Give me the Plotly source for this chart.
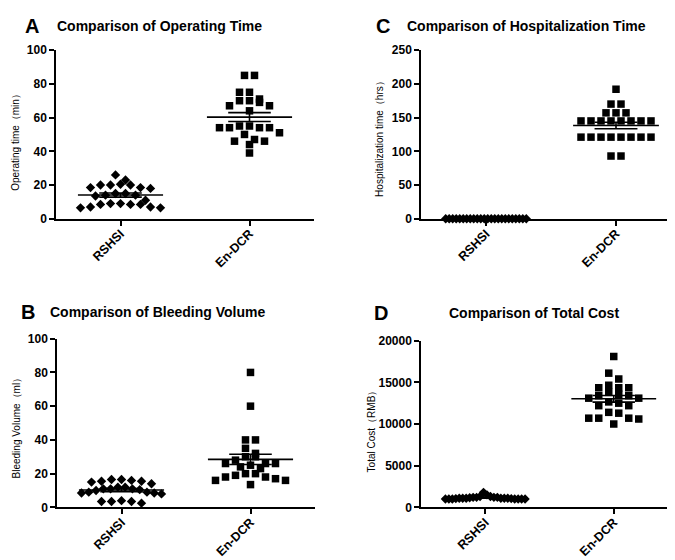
import numpy as np
import plotly.graph_objects as go

W, H = 675, 560

categories = ["RSHSI", "En-DCR"]

# Panel A: Operating time (min)
op_rshsi = [26, 23, 18.5, 20, 20, 20, 20.5, 18, 18.5, 15, 14, 14, 13.5, 15, 11,
            8.5, 8.5, 9, 9, 8.5, 7, 7, 6.5, 6.5]
op_endcr = [85, 85, 75, 75, 71, 70, 70, 69, 67, 67, 64, 55, 55, 54, 54, 54, 54,
            51, 50, 47, 46, 46, 44, 39]

# Panel C: Hospitalization time (hrs)
hosp_rshsi = [0] * 24
hosp_endcr = [192, 170, 170, 157, 157, 157, 145, 145, 145, 145, 145, 145, 145, 145,
              121, 121, 121, 121, 121, 121, 121, 121, 93, 93]

# Panel B: Bleeding volume (ml)
bleed_rshsi = [16, 15, 16.5, 16.5, 15.5, 15.5, 14, 12, 11, 11, 10, 9, 11, 10.5,
               8.5, 8.5, 9, 8, 4, 3.5, 2.5, 3.5, 3.5, 12]
bleed_endcr = [80, 60, 40, 40, 35, 32, 30, 30, 28, 26, 26, 26, 25, 23, 24, 20, 20,
               19, 18, 18, 17, 16, 16, 13.5]

# Panel D: Total cost (RMB)
cost_rshsi = [1200, 1300, 1100, 1000, 1200, 1100, 1000, 1050, 1800, 1500, 1100, 1000,
              1100, 1000, 1050, 1200, 1100, 1000, 1300, 1100, 1000, 1200, 1150, 1000]
cost_endcr = [18100, 16100, 15400, 14650, 14350, 14350, 14350, 13800, 13550, 13400,
              13400, 13100, 13100, 12650, 12500, 12200, 12200, 11300, 11400, 10700,
              10600, 10700, 10700, 10000]

panels = [
    dict(letter="A", title="Comparison of Operating Time", ylabel="Operating time（min）",
         data=[op_rshsi, op_endcr], ymax=100, dtick=20,
         box=(48, 306, 36, 209), letter_xy=(15, 11), title_xy=(47, 11), ylab_xy=(8, 128)),
    dict(letter="C", title="Comparison of Hospitalization Time", ylabel="Hospitalization time（hrs）",
         data=[hosp_rshsi, hosp_endcr], ymax=250, dtick=50,
         box=(413, 673, 36, 209), letter_xy=(366, 11), title_xy=(397, 11), ylab_xy=(372, 125)),
    dict(letter="B", title="Comparison of Bleeding Volume", ylabel="Bleeding Volume（ml）",
         data=[bleed_rshsi, bleed_endcr], ymax=100, dtick=20,
         box=(49, 307, 332, 505), letter_xy=(11, 305), title_xy=(40, 305), ylab_xy=(8, 421)),
    dict(letter="D", title="Comparison of Total Cost", ylabel="Total Cost（RMB）",
         data=[cost_rshsi, cost_endcr], ymax=20000, dtick=5000,
         box=(413, 670, 334, 505), letter_xy=(364, 306), title_xy=(439, 306), ylab_xy=(363, 425)),
]

symbols = ["diamond", "square"]
msizes = [7.2, 7.5]


def swarm(values, y_ppu, x_ppu, row_px=7.0, step=10.0, max_half=0.31):
    """GraphPad-like row layout: values closer than row_px share a row, centred."""
    vals = np.asarray(values, float)
    order = list(np.argsort(-vals, kind="stable"))
    offs = np.zeros(len(vals))
    rows = []
    for i in order:
        if rows and (vals[rows[-1][0]] - vals[i]) * y_ppu < row_px:
            rows[-1].append(i)
        else:
            rows.append([i])
    for row in rows:
        k = len(row)
        pos = [(j - (k - 1) / 2.0) * step / x_ppu for j in range(k)]
        half = max(abs(p) for p in pos) if k > 1 else 0
        if half > max_half:
            pos = [p * max_half / half for p in pos]
        slots = sorted(range(k), key=lambda j: (abs(j - (k - 1) / 2.0), j))
        for i, s in zip(row, slots):
            offs[i] = pos[s]
    return offs


fig = go.Figure()
layout = dict(width=W, height=H, margin=dict(l=0, r=0, t=0, b=0),
              paper_bgcolor="white", plot_bgcolor="white", showlegend=False)
annotations = []
font_family = "Liberation Sans, Arial, sans-serif"

for idx, p in enumerate(panels):
    n = idx + 1
    xa = "x" if n == 1 else f"x{n}"
    ya = "y" if n == 1 else f"y{n}"
    x0, x1, yt, yb = p["box"]
    x_ppu = (x1 - x0) / 2.0
    y_ppu = (yb - yt) / p["ymax"]
    for g, vals in enumerate(p["data"]):
        offs = swarm(vals, y_ppu, x_ppu)
        fig.add_trace(go.Scatter(
            x=g + offs, y=vals, mode="markers", xaxis=xa, yaxis=ya, cliponaxis=False,
            marker=dict(symbol=symbols[g], size=msizes[g], color="black",
                        line=dict(width=0)),
            hoverinfo="y"))
        arr = np.asarray(vals, float)
        m = arr.mean()
        sem = arr.std(ddof=1) / np.sqrt(len(arr))
        lx = [g - 0.33, g + 0.33, None, g - 0.165, g + 0.165, None,
              g - 0.165, g + 0.165, None, g, g]
        ly = [m, m, None, m + sem, m + sem, None, m - sem, m - sem, None, m - sem, m + sem]
        fig.add_trace(go.Scatter(x=lx, y=ly, mode="lines", xaxis=xa, yaxis=ya,
                                 cliponaxis=False,
                                 line=dict(color="black", width=1.6), hoverinfo="skip"))
    ax_common = dict(showline=True, linecolor="black", linewidth=1.5, showgrid=False,
                     zeroline=False, ticks="outside", ticklen=5, tickwidth=1.5,
                     tickcolor="black",
                     tickfont=dict(family=font_family, size=12, color="black", weight="bold"))
    layout["xaxis" if n == 1 else f"xaxis{n}"] = dict(
        ax_common, domain=[x0 / W, x1 / W], range=[-0.5, 1.5], anchor=ya,
        tickvals=[0, 1], ticktext=categories, tickangle=-45, fixedrange=True,
        ticklabelstandoff=-4,
        tickfont=dict(family=font_family, size=12.5, color="black", weight="bold"))
    layout["yaxis" if n == 1 else f"yaxis{n}"] = dict(
        ax_common, domain=[1 - yb / H, 1 - yt / H], range=[0, p["ymax"]], anchor=xa,
        dtick=p["dtick"], tick0=0, tickformat="d", fixedrange=True)
    lx_, ly_ = p["letter_xy"]
    annotations.append(dict(text=p["letter"], x=lx_ / W, y=1 - ly_ / H, xref="paper",
                            yref="paper", xanchor="left", yanchor="middle", showarrow=False,
                            font=dict(family=font_family, size=20, color="black",
                                      weight="bold")))
    tx, ty = p["title_xy"]
    annotations.append(dict(text=p["title"], x=tx / W, y=1 - ty / H, xref="paper",
                            yref="paper", xanchor="left", yanchor="middle", showarrow=False,
                            font=dict(family=font_family, size=14, color="black",
                                      weight="bold")))
    ax_, ay_ = p["ylab_xy"]
    annotations.append(dict(text=p["ylabel"], x=ax_ / W, y=1 - ay_ / H, xref="paper",
                            yref="paper", xanchor="center", yanchor="middle",
                            showarrow=False, textangle=-90,
                            font=dict(family=font_family, size=10, color="black")))

layout["annotations"] = annotations
fig.update_layout(**layout)
fig.write_html("out.html")
